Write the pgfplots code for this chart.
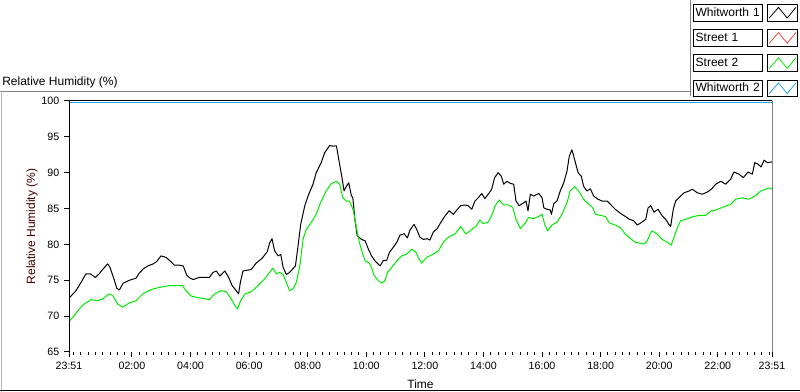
\documentclass[border=0pt]{standalone}
\usepackage{fontspec}
\setmainfont{Liberation Sans}
\usepackage{pgfplots}
\pgfplotsset{compat=1.18}
\definecolor{swgreen}{RGB}{0,235,0}
\definecolor{swblue}{RGB}{40,165,235}
\definecolor{swred}{RGB}{240,70,70}
\definecolor{framegrey}{RGB}{128,128,128}
\definecolor{labelred}{RGB}{70,0,0}

\pgfplotstableread{
t v
0 72.5
0.24 73.56
0.41 74.7
0.58 75.9
0.72 75.9
0.90 75.4
1.03 75.9
1.15 76.5
1.32 77.3
1.40 76.8
1.55 75.0
1.63 73.9
1.72 73.65
1.85 74.6
2.06 75.0
2.29 75.3
2.38 75.9
2.54 76.6
2.69 77.0
2.88 77.3
2.99 77.6
3.14 78.4
3.31 78.2
3.48 77.6
3.60 77.1
3.77 77.1
3.90 77.0
4.02 75.7
4.13 75.3
4.24 75.1
4.45 75.4
4.79 75.4
4.92 76.1
5.03 76.3
5.15 75.6
5.32 76.3
5.45 75.4
5.57 74.25
5.71 73.55
5.79 73.1
5.85 74.7
5.94 76.3
6.22 76.5
6.39 77.4
6.59 78.05
6.77 79.0
6.85 80.2
6.93 80.8
7.02 79.1
7.14 78.4
7.23 78.6
7.31 76.8
7.42 75.8
7.53 76.1
7.73 77.0
7.82 79.8
7.91 82.8
8.05 85.4
8.16 86.75
8.33 88.4
8.44 90.0
8.61 91.4
8.73 92.8
8.90 93.8
9.01 93.7
9.13 93.75
9.24 91.15
9.32 89.3
9.39 87.45
9.47 88.1
9.55 88.6
9.64 86.8
9.69 86.5
9.76 83.5
9.84 81.2
9.99 80.7
10.11 80.5
10.22 79.35
10.33 78.4
10.45 77.7
10.62 77.0
10.73 77.75
10.85 77.8
10.94 78.9
11.07 79.6
11.19 80.3
11.30 81.3
11.44 81.5
11.55 80.9
11.64 82.0
11.78 82.8
11.87 82.1
11.98 81.0
12.10 80.7
12.23 80.8
12.32 80.6
12.44 81.75
12.57 82.2
12.69 83.05
12.84 84.0
12.98 84.7
13.12 84.2
13.24 84.8
13.37 85.4
13.52 85.5
13.63 85.4
13.75 84.9
13.86 86.05
13.97 86.5
14.09 87.1
14.20 86.4
14.35 87.2
14.43 87.7
14.53 89.3
14.65 90.0
14.76 89.5
14.84 88.4
14.95 88.8
15.07 88.5
15.18 88.4
15.26 86.05
15.37 85.4
15.52 85.8
15.60 86.05
15.67 84.7
15.75 87.0
15.86 86.75
16.04 87.1
16.15 86.5
16.21 85.1
16.32 84.9
16.43 84.8
16.47 84.2
16.55 85.7
16.66 86.05
16.77 87.45
16.89 88.6
17.00 90.2
17.08 92.3
17.17 93.2
17.26 91.85
17.38 90.0
17.49 89.5
17.57 88.1
17.68 87.45
17.80 87.75
17.91 86.75
18.06 86.3
18.20 86.05
18.37 86.05
18.48 85.6
18.65 84.9
18.82 84.35
18.99 83.9
19.13 83.5
19.28 83.3
19.40 82.7
19.54 83.05
19.69 83.5
19.77 85.1
19.86 85.4
19.97 84.5
20.11 84.9
20.25 84.0
20.37 83.5
20.48 82.8
20.54 82.5
20.63 84.9
20.71 86.05
20.88 86.75
21.00 87.2
21.17 87.45
21.28 87.7
21.45 87.2
21.62 87.0
21.79 87.3
21.93 87.7
22.08 88.4
22.25 88.8
22.42 88.4
22.59 89.1
22.70 90.1
22.87 89.8
23.02 89.3
23.18 90.1
23.33 89.8
23.41 91.4
23.52 91.2
23.63 90.8
23.73 91.75
23.84 91.4
24.00 91.5
}\whitworthone

\pgfplotstableread{
t v
0 69.25
0.18 70.1
0.35 71.0
0.52 71.7
0.75 72.3
0.98 72.15
1.15 72.4
1.36 73.1
1.49 72.9
1.66 71.7
1.83 71.25
2.06 71.85
2.29 72.15
2.52 73.1
2.80 73.7
3.08 74.0
3.42 74.25
3.88 74.25
3.99 73.55
4.17 72.8
4.45 72.55
4.79 72.3
4.97 73.1
5.20 73.55
5.37 73.4
5.54 72.4
5.66 71.5
5.75 71.0
5.86 72.15
6.00 73.1
6.22 73.4
6.45 74.25
6.68 75.2
6.85 76.1
6.96 76.7
7.08 75.9
7.19 76.1
7.31 75.8
7.42 74.7
7.53 73.55
7.65 73.8
7.76 74.7
7.88 77.0
7.99 80.7
8.10 82.1
8.27 83.05
8.44 84.2
8.61 86.05
8.78 87.45
8.96 88.5
9.13 88.8
9.24 88.4
9.35 86.5
9.47 86.05
9.58 86.05
9.71 84.7
9.80 82.6
9.91 80.3
10.03 78.65
10.11 77.7
10.25 77.4
10.33 76.8
10.41 75.7
10.56 74.95
10.68 74.6
10.79 74.95
10.87 76.1
11.02 76.8
11.19 77.7
11.36 78.4
11.53 78.65
11.70 79.35
11.85 78.9
11.93 78.1
12.04 77.4
12.21 78.2
12.44 78.65
12.61 79.1
12.78 80.3
12.98 81.1
13.18 81.45
13.37 82.5
13.55 81.45
13.75 82.1
13.89 82.5
14.03 83.4
14.14 82.9
14.31 83.1
14.45 84.2
14.55 85.4
14.69 86.2
14.84 85.5
15.01 85.5
15.15 85.15
15.26 83.5
15.41 82.2
15.58 83.0
15.69 83.75
15.86 83.6
16.04 83.9
16.15 84.2
16.24 82.8
16.34 81.9
16.49 82.7
16.66 83.1
16.83 84.2
17.00 85.8
17.11 87.45
17.26 88.05
17.40 87.45
17.57 86.3
17.74 85.6
17.88 85.15
17.97 84.2
18.14 84.05
18.31 83.9
18.45 83.0
18.65 82.7
18.82 82.35
18.99 81.45
19.16 80.85
19.33 80.3
19.46 80.2
19.63 80.05
19.74 80.5
19.86 81.65
19.91 81.9
20.08 81.45
20.25 80.7
20.43 80.3
20.56 79.9
20.65 80.95
20.77 82.35
20.88 83.3
21.05 83.5
21.28 83.85
21.51 84.05
21.74 84.05
21.91 84.65
22.08 84.8
22.30 85.15
22.59 85.6
22.76 86.3
22.99 86.5
23.21 86.3
23.44 86.8
23.61 87.45
23.78 87.7
23.90 87.9
24.00 87.7
}\streettwo

\pgfplotstableread{
t v
0 99.85
24 99.85
}\whitworthtwo

\begin{document}
\begin{tikzpicture}
\useasboundingbox (0pt,0pt) rectangle (600pt,294pt);
\begin{scope}[shift={(0pt,294pt)}, x=0.75pt, y=-0.75pt]
  \draw[framegrey, line width=0.75pt] (0,91.5) -- (690,91.5);
  \draw[framegrey!60, line width=0.75pt] (1,91.5) -- (1,392);
  \draw[black, line width=0.75pt] (0,391) -- (800,391);
  \draw[framegrey, line width=0.75pt] (690,0) -- (690,96);
\end{scope}
\begin{axis}[
  at={(51.75pt,30pt)}, anchor=south west,
  width=527.25pt, height=188.25pt, scale only axis,
  xmin=0, xmax=24, ymin=65, ymax=100,
  clip mode=individual,
  axis line style={draw=none},
  tick align=outside, xtick pos=lower, ytick pos=left,
  xtick={0,2.15,4.15,6.15,8.15,10.15,12.15,14.15,16.15,18.15,20.15,22.15,24},
  xticklabels={23:51,02:00,04:00,06:00,08:00,10:00,12:00,14:00,16:00,18:00,20:00,22:00,23:51},
  minor xtick={0.15,0.40,...,23.95},
  ytick={65,70,75,80,85,90,95,100},
  minor ytick={},
  major tick length=3.75pt, minor tick length=2pt,
  every tick/.style={black, line width=0.75pt},
  ticklabel style={font=\fontsize{8}{9.6}\selectfont},
  /pgf/number format/assume math mode=true,
  xlabel={Time},
  ylabel={Relative Humidity (\%)},
  xlabel style={at={(axis description cs:0.5,0)}, anchor=center, yshift=-24pt, font=\fontsize{9}{10.8}\selectfont},
  ylabel style={at={(axis description cs:-0.0526,0.5)}, anchor=center, font=\fontsize{9}{10.8}\selectfont, color=labelred},
  every axis title shift=0pt,
  title={Relative Humidity (\%)},
  title style={at={(axis description cs:0,1)}, anchor=west, inner sep=0pt, xshift=-50.25pt, yshift=14.25pt, font=\fontsize{9}{10.8}\selectfont},
  legend style={at={(axis description cs:0.888,1.3865)}, anchor=north west, draw=none, fill=none,
    inner sep=0pt, outer sep=0pt, row sep=5.8pt, column sep=2.8pt,
    font=\fontsize{9}{10.8}\selectfont,
    nodes={draw=black, line width=0.6pt, fill=white, minimum height=12.5pt, text width=48.75pt,
      inner xsep=1.5pt, inner ysep=0pt, align=left, anchor=west}},
  legend plot pos=right,
  legend cell align=left,
  legend image code/.code={
    \draw[black, fill=white, line width=0.6pt] (0pt,-6.25pt) rectangle (23pt,6.25pt);
    \draw[#1, line width=0.6pt] (1.5pt,-4pt) -- (8.5pt,4pt) -- (15pt,-4pt) -- (21.5pt,4pt);
  },
]
\addplot[black, line width=0.75pt, mark=none, line join=round] table[x=t, y=v] {\whitworthone};
\addlegendentry{Whitworth 1}
\addlegendimage{swred}
\addlegendentry{Street 1}
\addplot[swgreen, line width=0.75pt, mark=none, line join=round] table[x=t, y=v] {\streettwo};
\addlegendentry{Street 2}
\addplot[swblue, line width=0.75pt, mark=none] table[x=t, y=v] {\whitworthtwo};
\addlegendentry{Whitworth 2}
\draw[black, line width=0.75pt] (axis description cs:0,0) -- (axis description cs:0,1) -- (axis description cs:1,1);
\draw[framegrey, line width=0.75pt] (axis description cs:1,1) -- (axis description cs:1,0);
\end{axis}
\end{tikzpicture}
\end{document}
